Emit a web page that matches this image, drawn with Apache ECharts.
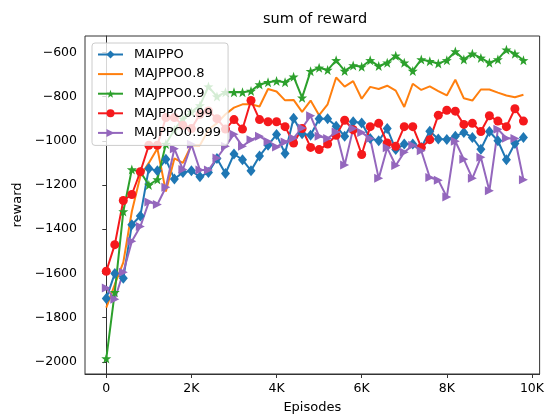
<!DOCTYPE html>
<html>
<head>
<meta charset="utf-8">
<script src="https://cdn.jsdelivr.net/npm/echarts@6/dist/echarts.min.js"></script>
<style>html,body{margin:0;padding:0;background:#fff;}#c{width:547px;height:419px;}</style>
</head>
<body>
<div id="c"></div>
<script>
const episodes = [0,200,400,600,800,1000,1200,1400,1600,1800,2000,2200,2400,2600,2800,3000,3200,3400,3600,3800,4000,4200,4400,4600,4800,5000,5200,5400,5600,5800,6000,6200,6400,6600,6800,7000,7200,7400,7600,7800,8000,8200,8400,8600,8800,9000,9200,9400,9600,9800];
const maippo = [-1714,-1600,-1622,-1380,-1340,-1125,-1136,-1084,-1173,-1143,-1136,-1163,-1143,-1080,-1148,-1060,-1086,-1135,-1069,-1020,-972,-1058,-898,-968,-975,-900,-900,-934,-980,-914,-920,-990,-1000,-945,-1040,-1015,-1015,-1030,-957,-992,-994,-980,-962,-985,-1038,-958,-1000,-1086,-1012,-985];
const majppo08 = [-1755,-1650,-1550,-1320,-1160,-1100,-1035,-1230,-1080,-1100,-1020,-1020,-950,-920,-880,-850,-835,-835,-845,-766,-777,-817,-815,-869,-818,-884,-835,-714,-755,-730,-810,-756,-766,-751,-773,-847,-742,-770,-754,-775,-795,-724,-808,-818,-768,-768,-782,-795,-803,-792];
const majppo09 = [-1985,-1685,-1320,-1130,-1140,-1200,-1175,-1015,-950,-900,-870,-840,-755,-800,-780,-780,-780,-775,-745,-735,-730,-735,-710,-805,-685,-670,-680,-636,-684,-659,-665,-636,-662,-647,-615,-647,-684,-632,-640,-650,-636,-596,-632,-606,-625,-647,-632,-588,-606,-636];
const majppo099 = [-1590,-1470,-1270,-1243,-1140,-1020,-1020,-895,-895,-930,-945,-880,-865,-900,-947,-904,-947,-818,-904,-914,-914,-936,-1010,-945,-1030,-1040,-1015,-975,-907,-950,-1062,-936,-921,-1010,-1025,-936,-936,-1030,-995,-884,-862,-866,-926,-921,-958,-887,-911,-936,-855,-911];
const majppo0999 = [-1666,-1717,-1595,-1455,-1388,-1277,-1288,-1210,-1036,-1130,-1016,-1132,-1132,-1078,-1025,-970,-1025,-995,-980,-1003,-1028,-1005,-988,-942,-887,-980,-990,-960,-1110,-945,-962,-990,-1170,-1032,-1112,-1052,-1020,-1045,-1166,-1178,-1254,-1002,-1084,-1170,-1075,-1226,-948,-988,-990,-1176];
const seriesNames = ['MAIPPO','MAJPPO0.8','MAJPPO0.9','MAJPPO0.99','MAJPPO0.999'];
const xTicks = [0,2000,4000,6000,8000,10000];
const xTickLabels = ['0','2K','4K','6K','8K','10K'];
const yTicks = [-2000,-1800,-1600,-1400,-1200,-1000,-800,-600];

const FONT = '"DejaVu Sans", sans-serif';
const pair = arr => arr.map((v,i)=>[episodes[i], v]);
const star = 'path://M0,-10L2.35,-3.24L9.51,-3.09L3.8,1.24L5.88,8.09L0,4L-5.88,8.09L-3.8,1.24L-9.51,-3.09L-2.35,-3.24Z';
const triRight = 'path://M0,0L10,5L0,10Z';

const chart = echarts.init(document.getElementById('c'), null, {renderer:'canvas'});
const mk = (name, data, color, symbol, size) => ({
  name, type:'line', data: pair(data),
  symbol, symbolSize: size, showSymbol: symbol !== 'none',
  lineStyle:{color, width:2}, itemStyle:{color, borderWidth:0},
  emphasis:{disabled:true}, animation:false
});
chart.setOption({
  animation:false,
  backgroundColor:'#fff',
  title:{text:'sum of reward', left:258, top:7, textStyle:{fontFamily:FONT, fontSize:14.5, fontWeight:'normal', color:'#000'}},
  grid:{left:85, right:4, top:36, bottom:39, show:true, borderColor:'#333', borderWidth:1, backgroundColor:'transparent'},
  legend:{
    orient:'vertical', left:92, top:43, itemWidth:25, itemHeight:10, itemGap:4.6,
    backgroundColor:'rgba(255,255,255,0.8)', borderColor:'#ccc', borderWidth:1, borderRadius:3,
    padding:[4,7,5,5],
    textStyle:{fontFamily:FONT, fontSize:13, color:'#000', lineHeight:15, padding:[0,0,0,6]},
    data: [
      {name: seriesNames[0]},
      {name: seriesNames[1], itemStyle:{color:'rgba(0,0,0,0)', borderWidth:0}},
      {name: seriesNames[2]},
      {name: seriesNames[3]},
      {name: seriesNames[4]}
    ]
  },
  xAxis:{
    type:'value', min:-500, max:10180,
    name:'Episodes', nameLocation:'middle', nameGap:27,
    nameTextStyle:{fontFamily:FONT, fontSize:13, color:'#000'},
    axisLine:{show:true, lineStyle:{color:'#333', width:1}},
    axisTick:{show:true, inside:false, length:4, customValues:xTicks, lineStyle:{color:'#333'}},
    axisLabel:{customValues:xTicks, margin:8, fontFamily:FONT, fontSize:12.5, color:'#000',
      formatter: v => xTickLabels[xTicks.indexOf(v)] ?? ''},
    splitLine:{show:false}
  },
  yAxis:{
    type:'value', min:-2055, max:-526,
    name:'reward', nameLocation:'middle', nameGap:60, nameRotate:90,
    nameTextStyle:{fontFamily:FONT, fontSize:13, color:'#000'},
    axisLine:{show:true, lineStyle:{color:'#333', width:1}},
    axisTick:{show:true, inside:false, length:4, customValues:yTicks, lineStyle:{color:'#333'}},
    axisLabel:{customValues:yTicks, margin:8, fontFamily:FONT, fontSize:12.5, color:'#000',
      formatter: v => String(v).replace('-', '\u2212')},
    splitLine:{show:false}
  },
  series:[
    mk(seriesNames[0], maippo, '#1f77b4', 'diamond', [9,11]),
    mk(seriesNames[1], majppo08, '#ff7f0e', 'none', 0),
    mk(seriesNames[2], majppo09, '#2ca02c', star, 10),
    mk(seriesNames[3], majppo099, '#f5191c', 'circle', 9),
    mk(seriesNames[4], majppo0999, '#9467bd', triRight, 9)
  ]
});
</script>
</body>
</html>
